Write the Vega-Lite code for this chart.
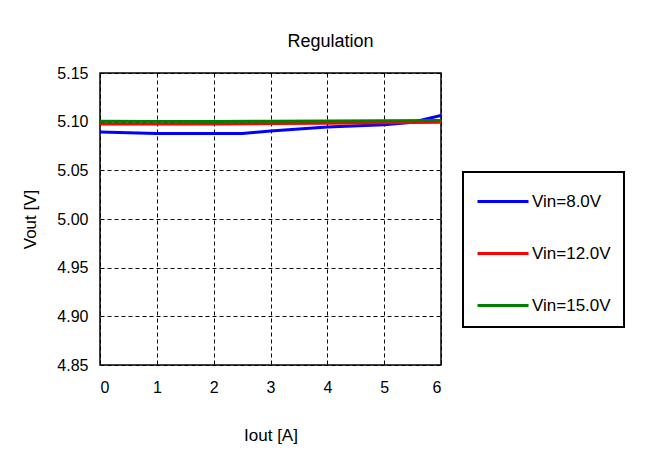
{
  "$schema": "https://vega.github.io/schema/vega-lite/v6.json",
  "autosize": "none",
  "width": 341,
  "height": 292,
  "padding": {"left": 100, "top": 73, "right": 210, "bottom": 103},
  "background": "white",
  "title": {
    "text": "Regulation",
    "font": "Liberation Sans",
    "fontSize": 18,
    "fontWeight": "normal",
    "color": "black",
    "anchor": "middle",
    "dx": 60,
    "offset": 14
  },
  "data": {
    "values": [
      {"iout": 0, "vout": 5.0895, "series": "Vin=8.0V"},
      {"iout": 0.5, "vout": 5.0887, "series": "Vin=8.0V"},
      {"iout": 1, "vout": 5.0878, "series": "Vin=8.0V"},
      {"iout": 2, "vout": 5.0878, "series": "Vin=8.0V"},
      {"iout": 2.5, "vout": 5.0879, "series": "Vin=8.0V"},
      {"iout": 3, "vout": 5.0905, "series": "Vin=8.0V"},
      {"iout": 4, "vout": 5.0945, "series": "Vin=8.0V"},
      {"iout": 5, "vout": 5.0968, "series": "Vin=8.0V"},
      {"iout": 5.5, "vout": 5.0995, "series": "Vin=8.0V"},
      {"iout": 6, "vout": 5.1065, "series": "Vin=8.0V"},
      {"iout": 0, "vout": 5.0975, "series": "Vin=12.0V"},
      {"iout": 1, "vout": 5.0975, "series": "Vin=12.0V"},
      {"iout": 2, "vout": 5.0977, "series": "Vin=12.0V"},
      {"iout": 3, "vout": 5.098, "series": "Vin=12.0V"},
      {"iout": 4, "vout": 5.0985, "series": "Vin=12.0V"},
      {"iout": 5, "vout": 5.099, "series": "Vin=12.0V"},
      {"iout": 6, "vout": 5.0995, "series": "Vin=12.0V"},
      {"iout": 0, "vout": 5.1005, "series": "Vin=15.0V"},
      {"iout": 1, "vout": 5.1003, "series": "Vin=15.0V"},
      {"iout": 2, "vout": 5.1003, "series": "Vin=15.0V"},
      {"iout": 3, "vout": 5.1005, "series": "Vin=15.0V"},
      {"iout": 4, "vout": 5.1008, "series": "Vin=15.0V"},
      {"iout": 5, "vout": 5.101, "series": "Vin=15.0V"},
      {"iout": 6, "vout": 5.1012, "series": "Vin=15.0V"}
    ]
  },
  "mark": {"type": "line", "strokeWidth": 3, "clip": true},
  "encoding": {
    "x": {
      "field": "iout",
      "type": "quantitative",
      "scale": {"domain": [0, 6], "nice": false},
      "axis": {
        "title": "Iout [A]",
        "values": [0, 1, 2, 3, 4, 5, 6],
        "format": "d",
        "labelPadding": 14,
        "titlePadding": 32
      }
    },
    "y": {
      "field": "vout",
      "type": "quantitative",
      "scale": {"domain": [4.85, 5.15], "nice": false, "zero": false},
      "axis": {
        "title": "Vout  [V]",
        "values": [4.85, 4.9, 4.95, 5.0, 5.05, 5.1, 5.15],
        "format": ".2f",
        "labelPadding": 12,
        "titlePadding": 17
      }
    },
    "color": {
      "field": "series",
      "type": "nominal",
      "scale": {
        "domain": ["Vin=8.0V", "Vin=12.0V", "Vin=15.0V"],
        "range": ["#0000FF", "#FF0000", "#008000"]
      },
      "legend": {
        "title": null,
        "orient": "none",
        "legendX": 363,
        "legendY": 99,
        "symbolType": "M-1,0H2.4",
        "symbolSize": 900,
        "symbolStrokeWidth": 3,
        "labelFont": "Liberation Sans",
        "labelFontSize": 17,
        "labelColor": "black",
        "labelOffset": 23,
        "rowPadding": 27,
        "padding": 13,
        "strokeColor": "black",
        "fillColor": "white"
      }
    }
  },
  "config": {
    "font": "Liberation Sans",
    "view": {"stroke": "black", "strokeWidth": 1.5},
    "axis": {
      "grid": true,
      "gridColor": "black",
      "gridDash": [4, 3],
      "gridWidth": 1,
      "gridOpacity": 1,
      "ticks": false,
      "domain": false,
      "labelFont": "Liberation Sans",
      "labelFontSize": 16,
      "labelColor": "black",
      "titleFont": "Liberation Sans",
      "titleFontSize": 17,
      "titleFontWeight": "normal",
      "titleColor": "black"
    },
    "legend": {"strokeWidth": 2}
  }
}
